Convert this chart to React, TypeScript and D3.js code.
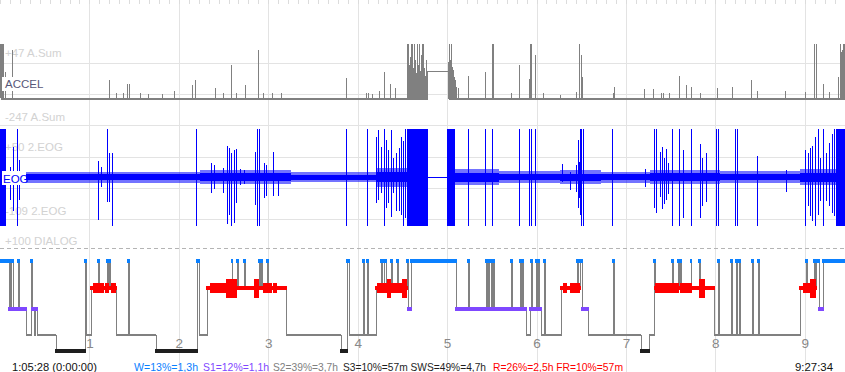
import React from "react";
import * as d3 from "d3";

const WIDTH = 845;
const HEIGHT = 372;
const END_MIN = 567; // minutes shown across the chart
const HOUR_TICKS = [1, 2, 3, 4, 5, 6, 7, 8, 9];
const GRID_ROWS = [2, 3, 4, 5, 6, 7];

const START_LABEL = "1:05:28 (0:00:00)";
const END_LABEL = "9:27:34";

const STAGES = ["W", "R", "S1", "S2", "S3"];
const STAGE_COLORS: Record<string, string> = {
  W: "#0a80ff",
  R: "#ff0000",
  S1: "#7f48ff",
  S2: "#808080",
  S3: "#1e1e1e",
};

const LEGEND = [
  { stage: "W", text: "W=13%=1,3h" },
  { stage: "S1", text: "S1=12%=1,1h" },
  { stage: "S2", text: "S2=39%=3,7h" },
  { stage: "S3", text: "S3=10%=57m SWS=49%=4,7h" },
  { stage: "R", text: "R=26%=2,5h FR=10%=57m" },
];

// hypnogram: [minute, stage]
const hypnogram: [number, string][] = [
  [0, "W"], [6, "S1"], [7, "W"], [7.5, "S1"], [8.5, "W"], [9, "S1"], [12, "W"], [12.5, "S1"],
  [17.5, "S2"], [21, "W"], [21.5, "S1"], [23, "S2"], [23.5, "S1"], [24.5, "S2"],
  [37.5, "S3"], [57, "W"], [57.5, "S2"], [61, "R"], [66, "W"], [66.5, "R"], [72, "W"], [72.5, "R"],
  [73, "W"], [73.5, "R"], [78, "S2"], [86, "W"], [86.5, "S2"],
  [104.5, "S3"], [132, "W"], [133.5, "S2"], [139, "R"], [155.5, "W"], [156, "R"], [159, "W"], [159.5, "R"],
  [164, "W"], [164.5, "R"], [174, "W"], [174.5, "R"], [175, "W"], [175.5, "R"], [179, "W"], [179.5, "R"],
  [192, "S2"], [229, "S3"], [233, "W"], [234, "S2"], [243.5, "W"], [244, "S2"], [246.5, "W"], [247, "S2"],
  [252.5, "R"], [255.5, "W"], [256, "R"], [257.5, "W"], [259, "R"], [262.5, "W"], [263, "R"], [266.5, "W"], [267, "R"],
  [273, "W"], [274, "S1"], [275.5, "W"], [306, "S1"], [314, "W"], [314.5, "S1"], [326, "W"], [326.5, "S1"],
  [327.5, "W"], [328, "S1"], [329.5, "W"], [330, "S1"], [331, "W"], [331.5, "S1"], [343, "W"], [343.5, "S1"],
  [349, "W"], [349.5, "S1"], [350.5, "W"], [351, "S1"],
  [353, "S2"], [355.5, "S1"], [356.5, "W"], [357, "S1"], [359.5, "W"], [360, "S1"], [361, "W"], [361.5, "S1"],
  [363, "S2"], [365, "W"], [365.5, "S2"],
  [376.5, "R"], [387, "W"], [388, "R"], [389, "W"], [390.5, "S1"], [394.5, "S2"], [411.5, "W"], [412, "S2"],
  [430, "S3"], [435.5, "S2"], [439, "W"], [439.5, "R"],
  [451, "W"], [451.5, "R"], [455, "W"], [455.5, "R"], [456.5, "W"], [457, "R"], [463.5, "W"], [464, "R"],
  [469, "W"], [469.5, "R"],
  [479, "S2"], [482, "W"], [482.5, "S2"], [490.5, "W"], [491, "S2"], [494, "W"], [494.5, "S2"],
  [496, "W"], [496.5, "S2"], [504.5, "W"], [505, "S2"], [508.5, "W"], [509, "S2"],
  [537, "R"], [541, "W"], [541.5, "R"], [546.5, "W"], [547, "R"], [547.5, "W"], [549.5, "S1"], [552.5, "W"],
];

// REM eye movement density: [from, to, level]
const remDensity: [number, number, number][] = [
  [62.5, 70, 1], [70.5, 73, 1], [74.5, 78, 1],
  [141, 151.5, 1], [151.5, 159, 2], [170.5, 174, 2], [176.5, 182.5, 1], [183, 186, 1],
  [253, 273, 1], [259.5, 262.5, 2], [270, 273, 2],
  [378, 380.5, 1], [382.5, 389.5, 1],
  [439.5, 455.5, 1], [456.5, 464.5, 1], [469, 473, 2],
  [539, 547.5, 1], [543.5, 547.5, 2],
];

// ACCEL: [minute, % of full scale]
const accelSpikes: [number, number][] = [
  [0, 100], [0.7, 100], [1.3, 100], [2, 100], [3.4, 47], [8, 89],
  [73, 32], [78, 9], [82.5, 8], [85, 26], [86.5, 26], [94, 8], [99.5, 6], [108.5, 6], [117, 13],
  [129, 23], [131, 32], [144.5, 17], [149.5, 8], [155, 60], [158.5, 9], [164.5, 23], [173, 89],
  [176.5, 8], [182.5, 8], [188.5, 9],
  [232, 36], [245.5, 8], [247, 8], [249.5, 6], [254.5, 13], [257.5, 47], [261.5, 26], [265, 17],
  [273.1, 100], [273.8, 100], [274.5, 60], [275.2, 75], [275.8, 100], [276.5, 100], [277.2, 55],
  [277.8, 100], [278.5, 70], [279.2, 45], [279.9, 100], [280.5, 60], [281.2, 100], [281.9, 50],
  [282.5, 80], [283.2, 100], [283.9, 100], [284.5, 55], [285.2, 40], [285.9, 70],
  [300.7, 66], [301.3, 100], [302, 70], [302.7, 100], [303.3, 57], [304, 51], [304.7, 38], [305.3, 32],
  [306, 20], [307.4, 17],
  [314.1, 40], [325.5, 47], [330.2, 100], [330.9, 100], [343, 9], [348.3, 60], [355, 34], [355.7, 100],
  [356.4, 100], [359, 79], [364.4, 9], [375.8, 4], [386.6, 11], [388.6, 100], [389.9, 79], [390.6, 38],
  [411.4, 9], [412.1, 19], [432.2, 15], [438.2, 15], [443.6, 9], [444.9, 8], [449, 9], [455.7, 40],
  [460.4, 23], [463.7, 19], [469.8, 9], [481.2, 17], [491.2, 19], [504, 32], [508, 13], [526.8, 13],
  [540.2, 11], [546.3, 100], [547.6, 100], [552.3, 26], [556.3, 11], [562.4, 38], [563.7, 100],
  [564.4, 85], [565.1, 89], [565.7, 100], [566.4, 100],
];
// raised flat stretch while the signal is lost: [from, to, %]
const accelPlateau: [number, number, number] = [286.6, 300.3, 49];

// EOG: [minute, up %, down %]
const eogSpikes: [number, number, number][] = [
  [6.7, 21, 48], [8.7, 63, 69], [11.4, 100, 100], [12.8, 35, 48],
  [65.8, 33, 88], [67.8, 21, 21], [71.8, 100, 52], [73.1, 50, 52], [75.2, 50, 100],
  [131.5, 100, 100], [141.6, 29, 33], [143.6, 25, 25], [149.7, 19, 33], [152.3, 65, 96], [153.7, 60, 79],
  [155, 50, 100], [157, 56, 94], [158.4, 58, 54], [161, 17, 17], [163.7, 15, 15], [171.1, 52, 58],
  [172.5, 100, 100], [173.8, 100, 100], [177.2, 29, 44], [178.5, 25, 38], [183.2, 52, 38], [186.6, 8, 38],
  [232.2, 100, 100], [246.3, 100, 100], [252.3, 83, 54], [253.7, 98, 48], [255.7, 63, 33], [257.7, 100, 100],
  [259, 77, 63], [260.4, 56, 54], [262.4, 98, 83], [263.7, 40, 33], [265.8, 50, 69], [267.8, 60, 70],
  [269.1, 83, 79], [270.5, 75, 100], [271.8, 100, 85], [273.1, 100, 100],
  [314.1, 100, 100], [325.5, 100, 100], [330.2, 100, 100], [348.3, 100, 100], [355, 100, 100],
  [356.4, 100, 100], [359, 100, 100],
  [377.2, 27, 10], [382.5, 10, 27], [386.6, 25, 30], [387.9, 77, 63], [388.6, 31, 42], [389.2, 100, 79],
  [389.9, 100, 100], [391.3, 100, 100],
  [410.7, 100, 100], [432.9, 17, 21], [438.9, 100, 63], [440.2, 100, 75], [442.9, 52, 40], [444.3, 63, 65],
  [445.6, 40, 55], [447, 58, 48], [448.3, 30, 35], [451, 100, 100], [455.7, 100, 100], [458.4, 56, 85],
  [463.7, 100, 100], [469.8, 69, 85], [471.1, 40, 60], [473.8, 50, 52],
  [480.5, 100, 100], [481.9, 100, 100], [493.3, 100, 100], [494.6, 100, 100], [508, 44, 100], [527.5, 15, 31],
  [540.2, 56, 100], [542.3, 50, 60], [543.6, 60, 80], [544.9, 65, 90], [547, 83, 100], [549, 100, 79],
  [550.3, 40, 50], [552.3, 100, 100], [554.3, 50, 50], [556.3, 70, 60], [558.4, 90, 75], [559.7, 100, 80],
];
const eogSaturated: [number, number][] = [[0, 4], [273.5, 287.2], [300, 305], [561, 567]];
const eogFlat: [number, number] = [287.2, 300];
// background noise band: [from, to, core %, peak %]
const eogNoise: [number, number, number, number][] = [
  [4, 60, 6, 11], [60, 134, 6, 11], [134, 195, 8, 14], [195, 252, 5, 10], [252, 273.5, 10, 20],
  [305, 335, 9, 17], [335, 376, 6, 12], [376, 403, 7, 14], [403, 436, 6, 11], [436, 483, 8, 15],
  [483, 537, 6, 12], [537, 561, 9, 17],
];

const FONT = "'Liberation Sans', Arial, sans-serif";

export default function App() {
  const x = d3.scaleLinear().domain([0, END_MIN]).range([0, WIDTH]);
  const px = (t: number) => Math.round(x(t)) + 0.5;
  const gridY = d3.scaleLinear().domain([0, 1]).range([0, 31.3]);
  const accelY = d3.scaleLinear().domain([0, 100]).range([97.5, 44]);
  const eogY = d3.scaleLinear().domain([-100, 100]).range([225.5, 129]);
  const stageY = d3.scaleOrdinal<string, number>().domain(STAGES).range([261, 288, 309, 335, 351]);

  const segs = hypnogram.map(([t, s], i) => ({
    t0: t,
    t1: i + 1 < hypnogram.length ? hypnogram[i + 1][0] : END_MIN,
    stage: s,
  }));

  const stepLine = d3
    .line<[number, string]>()
    .x((d) => Math.round(x(d[0])) + 0.5)
    .y((d) => stageY(d[1]))
    .curve(d3.curveStepAfter);
  const stepPath = stepLine([...hypnogram, [END_MIN, hypnogram[hypnogram.length - 1][1]]]) || "";

  const [p0, p1, pv] = accelPlateau;
  const accelBase = d3.line<[number, number]>().x((d) => px(d[0])).y((d) => Math.round(accelY(d[1])) + 0.5);
  const basePath1 = accelBase([[0, 0], [p0, 0]]) || "";
  const basePath2 = accelBase([[p1, 0], [END_MIN, 0]]) || "";
  const plateauPath = accelBase([[p0, 0], [p0, pv], [p1, pv], [p1, 0]]) || "";

  const minorTicks = d3.range(0, END_MIN, 60 / 9);

  const legendX = [134, 203, 273, 343, 493];
  const legendW = [64, 66, 65, 143, 130];

  return (
    <svg
      width={WIDTH}
      height={HEIGHT}
      style={{ position: "absolute", left: 0, top: 0, display: "block", background: "#fff" }}
      fontFamily={FONT}
    >
      <rect width={WIDTH} height={HEIGHT} fill="#fff" />
      {/* grid */}
      <g shapeRendering="crispEdges">
        {HOUR_TICKS.map((h) => (
          <line key={"v" + h} x1={px(h * 60)} x2={px(h * 60)} y1={0} y2={HEIGHT} stroke="#e3e3e3" />
        ))}
        {GRID_ROWS.map((r) => (
          <line key={"h" + r} x1={0} x2={WIDTH} y1={Math.round(gridY(r)) + 0.5} y2={Math.round(gridY(r)) + 0.5} stroke="#e3e3e3" />
        ))}
        {minorTicks.map((t, i) => (
          <line key={"m" + i} x1={px(t)} x2={px(t)} y1={0} y2={4} stroke="#dcdcdc" />
        ))}
      </g>

      {/* channel scale labels */}
      <g fill="#d2d2d2" fontSize={11.5}>
        <text x={5} y={57}>+47 A.Sum</text>
        <text x={5} y={121}>-247 A.Sum</text>
        <text x={5} y={151}>+50 2.EOG</text>
        <text x={5} y={215}>-109 2.EOG</text>
        <text x={5} y={245}>+100 DIALOG</text>
      </g>

      {/* ACCEL */}
      <g stroke="#808080" fill="none" shapeRendering="crispEdges">
        <path d={basePath1} strokeWidth={2} />
        <path d={basePath2} strokeWidth={2} />
        <path d={plateauPath} strokeWidth={1.5} />
        {accelSpikes.map(([t, v], i) => (
          <line key={i} x1={px(t)} x2={px(t)} y1={accelY(0)} y2={accelY(v)} strokeWidth={1} />
        ))}
      </g>

      {/* EOG */}
      <g fill="#0000ff" stroke="#0000ff" shapeRendering="crispEdges">
        {eogNoise.map(([a, b, , peak], i) => (
          <rect key={"np" + i} x={x(a)} width={x(b) - x(a)} y={eogY(peak)} height={eogY(-peak) - eogY(peak)} stroke="none" fillOpacity={0.55} />
        ))}
        {eogNoise.map(([a, b, core], i) => (
          <rect key={"nc" + i} x={x(a)} width={x(b) - x(a)} y={eogY(core)} height={eogY(-core) - eogY(core)} stroke="none" />
        ))}
        {eogSaturated.map(([a, b], i) => (
          <rect key={"s" + i} x={x(a)} width={x(b) - x(a)} y={eogY(100)} height={eogY(-100) - eogY(100)} stroke="none" />
        ))}
        <line x1={x(eogFlat[0])} x2={x(eogFlat[1])} y1={Math.round(eogY(0)) + 0.5} y2={Math.round(eogY(0)) + 0.5} strokeWidth={1} />
        {eogSpikes.map(([t, u, d], i) => (
          <line key={"e" + i} x1={px(t)} x2={px(t)} y1={eogY(u)} y2={eogY(-d)} strokeWidth={1} />
        ))}
      </g>

      {/* channel names */}
      <rect x={2} y={77} width={35} height={14} fill="#fff" />
      <text x={5} y={88} fontSize={11.5} fill="#585878">ACCEL</text>
      <rect x={2} y={171} width={24} height={14} fill="#fff" />
      <text x={3} y={183} fontSize={11.5} fill="#0000ff">EOG</text>

      <line x1={0} x2={WIDTH} y1={248.5} y2={248.5} stroke="#b4b4b4" strokeDasharray="4,3" />

      {/* hypnogram */}
      <g shapeRendering="crispEdges">
        <path d={stepPath} fill="none" stroke="#808080" strokeWidth={1} />
        {segs
          .filter((s) => s.stage === "S2")
          .map((s, i) => (
            <rect key={"s2" + i} x={x(s.t0)} width={x(s.t1) - x(s.t0)} y={stageY("S2") - 1} height={2} fill="#808080" />
          ))}
        {segs
          .filter((s) => s.stage !== "S2")
          .map((s, i) => (
            <rect
              key={"st" + i}
              x={x(s.t0) - 1}
              width={x(s.t1) - x(s.t0) + 2}
              y={stageY(s.stage) - 2}
              height={4}
              fill={STAGE_COLORS[s.stage]}
            />
          ))}
        {remDensity.map(([a, b, lvl], i) => {
          const h = lvl === 1 ? 9.5 : 19;
          return <rect key={"rd" + i} x={x(a)} width={x(b) - x(a)} y={stageY("R") - h / 2} height={h} fill={STAGE_COLORS.R} />;
        })}
      </g>

      {/* hour labels */}
      {HOUR_TICKS.map((h) => (
        <text key={"l" + h} x={x(h * 60) + 0.5} y={348} textAnchor="middle" fontSize={13.5} fill="#888">
          {h}
        </text>
      ))}

      {/* bottom line */}
      <text x={12} y={371} fontSize={11} fill="#111" textLength={85} lengthAdjust="spacingAndGlyphs">
        {START_LABEL}
      </text>
      {LEGEND.map((l, i) => (
        <text
          key={l.stage}
          x={legendX[i]}
          y={371}
          fontSize={11}
          fill={STAGE_COLORS[l.stage]}
          textLength={legendW[i]}
          lengthAdjust="spacingAndGlyphs"
        >
          {l.text}
        </text>
      ))}
      <text x={795} y={371} fontSize={11} fill="#111" textLength={38} lengthAdjust="spacingAndGlyphs">
        {END_LABEL}
      </text>
    </svg>
  );
}
